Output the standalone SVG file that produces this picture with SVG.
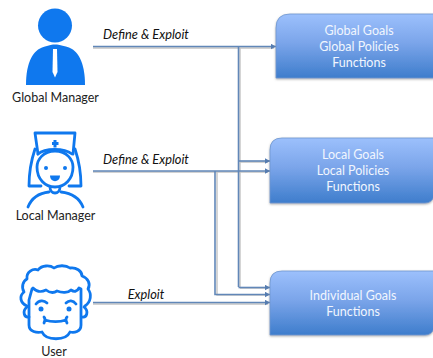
<svg xmlns="http://www.w3.org/2000/svg" width="433" height="358" viewBox="0 0 433 358">
<style>
.lbl{font-family:Lato,"Open Sans",sans-serif;font-size:12.500px;fill:#222;text-anchor:middle}
.it{font-family:Lato,"Open Sans",sans-serif;font-size:12.800px;font-style:italic;fill:#111;text-anchor:middle}
.bx{font-family:Lato,"Open Sans",sans-serif;font-size:12.500px;fill:#f1f6fe;text-anchor:middle}
.box{fill:url(#g);stroke:#6f97cf;stroke-width:.8;filter:url(#s)}
.ic{fill:none;stroke:#0f78ee;stroke-width:2.800;stroke-linecap:round;stroke-linejoin:round}
.c{fill:none;stroke:#6187b8;stroke-width:1.600}
.sh{fill:none;stroke:#a9a9a9;stroke-width:1.400;opacity:.7}
</style>
<defs>
<linearGradient id="g" x1="0" y1="0" x2="0" y2="1"><stop offset="0" stop-color="#9cc0fc"/><stop offset=".45" stop-color="#7ba5ea"/><stop offset="1" stop-color="#3e7dcc"/></linearGradient>
<filter id="s" x="-5%" y="-5%" width="110%" height="115%"><feDropShadow dx="0" dy="1" stdDeviation=".8" flood-color="#777" flood-opacity=".6"/></filter>
<marker id="a" markerUnits="userSpaceOnUse" markerWidth="6" markerHeight="6" refX="5" refY="3" orient="auto"><path d="M0 .3L5 3L0 5.700Z" fill="#557cb0"/></marker>
</defs>
<g id="connectors">
<path class="sh" d="M93 48H274M240 48V288M240 162H268M240 288H268M93 172H268M217 172V295H268M93 304H268"/>
<path class="c" marker-end="url(#a)" d="M93 46.500H276"/>
<path class="c" d="M238.500 46.500V287"/>
<path class="c" marker-end="url(#a)" d="M238.500 161H270"/>
<path class="c" marker-end="url(#a)" d="M238.500 287.500H270"/>
<path class="c" marker-end="url(#a)" d="M93 171H270"/>
<path class="c" marker-end="url(#a)" d="M215 171V294.500H270"/>
<path class="c" marker-end="url(#a)" d="M93 302.500H270"/>
</g>
<g id="global-manager">
<circle cx="55" cy="25.500" r="17" fill="#0f78ee"/>
<path d="M26 85C26 66 31 52 42 47.500C46 46 50 45 53 44.500H57C60 45 65 46 69 47.500C80 52 85 66 85 85Z" fill="#0f78ee"/>
<path d="M53 49L52.500 72L55 77.500L57.500 72L57 49Z" fill="#fff"/>
<text class="lbl" x="55.500" y="101.500">Global Manager</text>
</g>
<g id="local-manager">
<path class="ic" d="M35 133H75L73 154M35 133L38 154"/>
<path class="ic" d="M38 154C45 148 64 148 72 154"/>
<path class="ic" d="M55 151C67 151 73 160 73 167C73 179 65 187 55 187C45 187 37 179 37 167C37 160 43 151 55 151Z"/>
<path class="ic" d="M35 149C32 158 29 170 29 186H41M75 149C78 158 81 170 81 186H69"/>
<path d="M52 142H53.500V140H56.500V142H58.500V145H56.500V147.500H53.500V145H52Z" fill="#0f78ee"/>
<circle cx="46" cy="168" r="2" fill="#0f78ee"/><circle cx="65" cy="168" r="2" fill="#0f78ee"/>
<path d="M50 175.500H60C60 183 50 183 50 175.500Z" fill="#0f78ee"/>
<path class="ic" d="M50 187C50 195 60 195 60 187"/>
<path class="ic" d="M28 207C32 197 40 193 49 192M83 207C79 197 70 193 61 192"/>
<text class="lbl" x="55.500" y="219.500">Local Manager</text>
</g>
<g id="user">
<path class="ic" d="M27 306C20 303 19 296 24 292C21 287 23 281 27 279C26 272 33 268 38 270C42 265 50 265 54 268C58 265 66 265 70 268C76 267 82 271 82 276C88 278 91 284 88 289C92 294 91 302 85 306"/>
<path class="ic" d="M27 307C22 311 24 318 29 317M84 307C89 311 87 318 82 317"/>
<path class="ic" d="M32 289L33 288C38 293 42 292 46 290C50 293 54 293 57 291C62 293 68 293 71 290C74 292 77 292 79 288L81 289V325C81 332 74 333 70 332C66 341 46 341 42 332C37 333 29 332 29 325V300Z"/>
<path class="ic" d="M36 304C39 300 44 300 47 303M66 303C69 300 73 300 76 304"/>
<circle cx="41" cy="309" r="2.500" fill="#0f78ee"/><circle cx="69" cy="309" r="2.500" fill="#0f78ee"/>
<path class="ic" d="M44 317C46 319 45 321 44 323M67 317C65 319 66 321 67 323M45 320C51 322 60 322 66 320"/>
<text class="lbl" x="54" y="355.500">User</text>
</g>
<g id="global-box">
<path class="box" d="M276 28Q276 14 290 14H434V78H276Z"/>
<text class="bx" x="359" y="34.500">Global Goals</text><text class="bx" x="359" y="50.500">Global Policies</text><text class="bx" x="359" y="66.500">Functions</text>
</g>
<g id="local-box">
<path class="box" d="M270 150Q270 138 282 138H434V196Q432 203 425 203H270Z"/>
<text class="bx" x="353" y="158.500">Local Goals</text><text class="bx" x="353" y="174.500">Local Policies</text><text class="bx" x="353" y="190.500">Functions</text>
</g>
<g id="individual-box">
<path class="box" d="M270 283Q270 271 282 271H434V328Q432 335 425 335H270Z"/>
<text class="bx" x="353" y="299.500">Individual Goals</text><text class="bx" x="353" y="315.500">Functions</text>
</g>
<text class="it" x="146" y="38.500">Define &amp; Exploit</text>
<text class="it" x="146" y="163.500">Define &amp; Exploit</text>
<text class="it" x="146" y="298.500">Exploit</text>
</svg>
